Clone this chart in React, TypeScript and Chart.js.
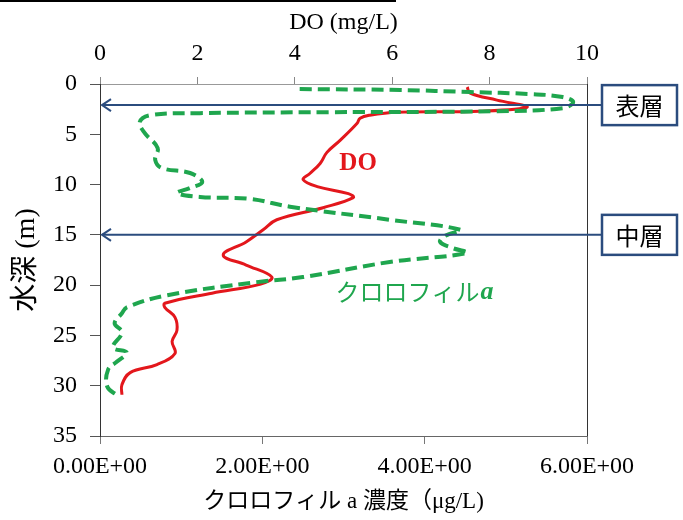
import React, { useEffect, useRef } from "react";
import { Chart, registerables } from "chart.js";

Chart.register(...registerables);

// DO profile (mg/L) vs depth (m)
const doDepth = [0.3, 0.9, 1.6, 2.3, 2.7, 2.8, 3.1, 3.4, 3.9, 5.6, 6.8, 7.9, 8.9, 9.5, 10.2, 10.9, 11.3, 12.3, 13.5, 14.5, 15.7, 17.0, 18.0, 19.2, 19.9, 20.8, 21.8, 22.2, 23.2, 24.5, 25.6, 26.8, 27.9, 28.7, 29.9, 30.9];
const doValue = [7.54, 7.6, 8.15, 8.77, 7.8, 6.1, 5.54, 5.34, 5.28, 4.93, 4.66, 4.52, 4.31, 4.17, 4.46, 5.1, 5.2, 4.58, 3.63, 3.35, 3.0, 2.53, 3.0, 3.53, 3.3, 2.3, 1.33, 1.33, 1.54, 1.58, 1.48, 1.54, 1.17, 0.62, 0.45, 0.45];

// Chlorophyll a profile (ug/L) vs depth (m)
const chlDepth = [0.5, 0.6, 0.8, 1.0, 1.3, 1.8, 2.4, 2.7, 2.8, 2.9, 3.1, 3.78, 4.87, 6.36, 7.55, 8.35, 8.85, 9.74, 10.34, 10.83, 11.23, 11.43, 12.2, 13.5, 14.5, 15.1, 15.7, 16.3, 16.8, 17.7, 19.2, 19.7, 21.0, 22.2, 22.8, 23.8, 24.7, 26.2, 26.7, 27.6, 28.4, 30.1, 31.0];
const chlValue = [2.46, 3.7, 4.56, 5.3, 5.7, 5.83, 5.7, 4.89, 2.83, 1.23, 0.62, 0.49, 0.55, 0.71, 0.68, 0.76, 1.11, 1.26, 1.11, 0.95, 1.23, 1.85, 2.34, 3.57, 4.44, 4.25, 4.19, 4.34, 4.52, 3.57, 2.5, 1.93, 0.83, 0.33, 0.27, 0.18, 0.27, 0.16, 0.33, 0.21, 0.1, 0.09, 0.22];

// annotations
const layerNames = ["表層", "中層"];
const layerDepths = [2.1, 15.0];

const SERIF = '"Liberation Serif", "Times New Roman", "Noto Sans CJK JP", serif';
const RED = "#e3171c";
const GREEN = "#1fa64e";
const NAVY = "#2b4c7e";

const overlay = {
  id: "overlay",
  beforeDraw(chart: any) {
    const ctx = chart.ctx;
    ctx.save();
    ctx.fillStyle = "#000";
    ctx.fillRect(0, 0, 396, 2);
    ctx.restore();
  },
  afterDraw(chart: any) {
    const ctx = chart.ctx;
    const area = chart.chartArea;
    const ys = chart.scales.y;
    const x2 = chart.scales.x2;
    const xs = chart.scales.x;
    ctx.save();
    // right frame line
    ctx.strokeStyle = "#333";
    ctx.lineWidth = 1;
    ctx.beginPath();
    ctx.moveTo(area.right + 0.5, area.top);
    ctx.lineTo(area.right + 0.5, area.bottom);
    ctx.stroke();

    // arrows and boxes
    layerDepths.forEach((d, i) => {
      const y = ys.getPixelForValue(d);
      const bx = area.right + 15;
      const bw = 75;
      const bh = 40;
      ctx.strokeStyle = NAVY;
      ctx.lineWidth = 2;
      ctx.beginPath();
      ctx.moveTo(bx, y);
      ctx.lineTo(area.left + 2, y);
      ctx.stroke();
      ctx.beginPath();
      ctx.moveTo(area.left + 11, y - 6);
      ctx.lineTo(area.left + 2, y);
      ctx.lineTo(area.left + 11, y + 6);
      ctx.stroke();
      ctx.lineWidth = 2.5;
      ctx.fillStyle = "#fff";
      ctx.fillRect(bx, y - bh / 2, bw, bh);
      ctx.strokeRect(bx, y - bh / 2, bw, bh);
      ctx.fillStyle = "#000";
      ctx.font = '24px "Noto Sans CJK JP", sans-serif';
      ctx.textAlign = "center";
      ctx.textBaseline = "middle";
      ctx.fillText(layerNames[i], bx + bw / 2, y + 1);
    });

    // series labels
    ctx.fillStyle = RED;
    ctx.font = 'bold 25px ' + SERIF;
    ctx.textAlign = "center";
    ctx.textBaseline = "middle";
    ctx.fillText("DO", x2.getPixelForValue(5.3), ys.getPixelForValue(7.95));

    ctx.fillStyle = GREEN;
    ctx.textAlign = "left";
    ctx.font = '24px "Noto Sans CJK JP", sans-serif';
    const lx = xs.getPixelForValue(2.9);
    const ly = ys.getPixelForValue(20.7);
    const t = "クロロフィル";
    ctx.fillText(t, lx, ly);
    const w = ctx.measureText(t).width;
    ctx.font = 'italic bold 26px ' + SERIF;
    ctx.fillText("a", lx + w + 1, ly);
    ctx.restore();
  },
};

export default function App() {
  const ref = useRef<HTMLCanvasElement>(null);
  useEffect(() => {
    document.body.style.margin = "0";
    const doData = doDepth.map((d, i) => ({ x: doValue[i], y: d }));
    const chlData = chlDepth.map((d, i) => ({ x: chlValue[i], y: d }));
    const chart = new Chart(ref.current as HTMLCanvasElement, {
      type: "scatter",
      data: {
        datasets: [
          {
            label: "クロロフィルa",
            data: chlData,
            xAxisID: "x",
            yAxisID: "y",
            showLine: true,
            borderColor: GREEN,
            borderWidth: 4,
            borderDash: [12, 6],
            pointRadius: 0,
            tension: 0.4,
            fill: false,
          },
          {
            label: "DO",
            data: doData,
            xAxisID: "x2",
            yAxisID: "y",
            showLine: true,
            borderColor: RED,
            borderWidth: 3,
            pointRadius: 0,
            tension: 0.4,
            fill: false,
          },
        ],
      },
      options: {
        responsive: false,
        animation: false,
        layout: { padding: { left: 0, right: 96, top: 0, bottom: 0 } },
        plugins: { legend: { display: false }, tooltip: { enabled: false } },
        scales: {
          x: {
            type: "linear",
            position: "bottom",
            min: 0,
            max: 6,
            afterFit: (s: any) => { s.height = 84; },
            ticks: {
              stepSize: 2,
              color: "#000",
              padding: 8,
              font: { family: SERIF, size: 24 },
              callback: (v: any) => Number(v).toFixed(2) + "E+00",
            },
            grid: { drawOnChartArea: false, tickLength: 8, color: "#777" },
            border: { display: true, color: "#666" },
            title: {
              display: true,
              text: "クロロフィル a 濃度（μg/L)",
              color: "#000",
              font: { family: SERIF, size: 23 },
              padding: { top: 0, bottom: 4 },
            },
          },
          x2: {
            type: "linear",
            position: "top",
            min: 0,
            max: 10,
            afterFit: (s: any) => { s.height = 84; },
            ticks: {
              stepSize: 2,
              color: "#000",
              padding: 9,
              font: { family: SERIF, size: 24 },
            },
            grid: { drawOnChartArea: false, tickLength: 7, color: "#888" },
            border: { display: true, color: "#999" },
            title: {
              display: true,
              text: "DO (mg/L)",
              color: "#000",
              font: { family: SERIF, size: 24 },
              padding: { top: 8, bottom: 0 },
            },
          },
          y: {
            type: "linear",
            position: "left",
            reverse: true,
            min: 0,
            max: 35,
            afterFit: (s: any) => { s.width = 100; },
            ticks: {
              stepSize: 5,
              color: "#000",
              padding: 13,
              font: { family: SERIF, size: 24 },
            },
            grid: { drawOnChartArea: false, tickLength: 10, color: "#555" },
            border: { display: true, color: "#333" },
            title: {
              display: true,
              text: "水深 (m)",
              color: "#000",
              font: { family: SERIF, size: 28 },
              padding: { top: 10, bottom: 0 },
            },
          },
        },
      },
      plugins: [overlay],
    });
    return () => chart.destroy();
  }, []);
  return (
    <div style={{ position: "absolute", left: 0, top: 0, width: 683, height: 520 }}>
      <canvas ref={ref} width={683} height={520} />
    </div>
  );
}
